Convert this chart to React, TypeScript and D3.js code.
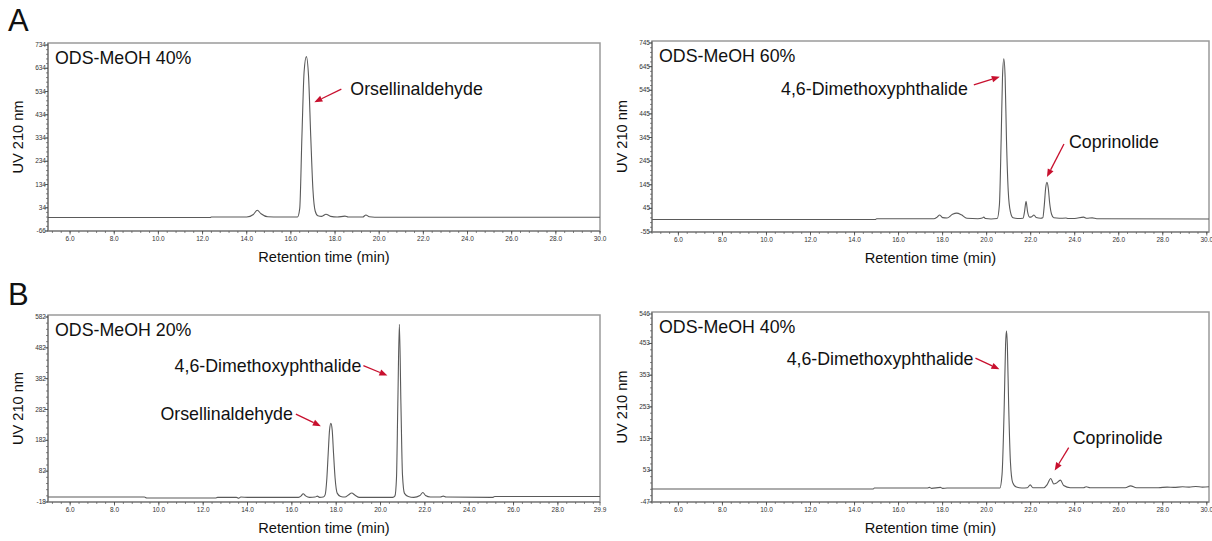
import React from 'react';
import * as d3 from 'd3';

type Pt = [number, number];

// chromatogram traces, [retention time (min), UV 210 nm response]
const traceA40: Pt[] = [
  [5.0, -8], [12.35, -8], [12.4, -6], [14.0, -6], [14.3, 5], [14.48, 23], [14.65, 8], [14.95, -5],
  [15.5, -6], [16.3, -6], [16.4, 30], [16.5, 340], [16.6, 620], [16.7, 684], [16.8, 600],
  [16.9, 340], [17.0, 110], [17.1, 20], [17.22, 0], [17.4, -3], [17.59, 6], [17.8, -3],
  [18.1, -6], [18.45, -2], [18.6, -6], [19.25, -6], [19.4, 3], [19.55, -5], [19.8, -7], [30.0, -7],
];

const traceA60: Pt[] = [
  [4.8, -2], [14.95, -2], [15.0, 1], [17.6, 1], [17.75, 8], [17.87, 17], [18.0, 6], [18.2, 4],
  [18.45, 20], [18.64, 25], [18.85, 18], [19.1, 3], [19.6, 1], [19.8, 4], [19.87, 8], [19.95, 2],
  [20.2, 0], [20.48, 2], [20.58, 60], [20.66, 340], [20.72, 600], [20.78, 678], [20.84, 600],
  [20.9, 340], [20.98, 120], [21.08, 30], [21.2, 5], [21.4, 2], [21.65, 3], [21.72, 30],
  [21.79, 75], [21.86, 30], [21.95, 8], [22.05, 10], [22.15, 17], [22.25, 6], [22.45, 3],
  [22.55, 5], [22.62, 60], [22.68, 130], [22.74, 155], [22.8, 130], [22.86, 70], [22.95, 20],
  [23.05, 5], [23.3, 3], [23.6, 4], [23.7, 2], [24.0, 2], [24.4, 8], [24.55, 3], [24.8, 5],
  [25.0, 1], [30.1, 0],
];

const traceB20: Pt[] = [
  [5.0, -2], [9.35, -2], [9.45, -5], [12.55, -5], [12.65, -3], [13.5, -3], [13.6, -6], [13.7, -2],
  [14.0, -3], [16.3, -3], [16.42, 2], [16.51, 9], [16.62, 2], [16.8, -3], [17.05, -2], [17.15, 1],
  [17.25, -3], [17.42, -2], [17.5, 5], [17.58, 60], [17.64, 140], [17.7, 215], [17.76, 237],
  [17.82, 215], [17.88, 140], [17.95, 60], [18.05, 10], [18.2, 0], [18.4, -2], [18.55, 5],
  [18.7, 11], [18.85, 4], [19.05, -3], [20.55, -3], [20.65, 2], [20.72, 60], [20.78, 300],
  [20.85, 558], [20.92, 300], [20.99, 70], [21.08, 10], [21.25, 0], [21.5, -3], [21.78, 3],
  [21.91, 13], [22.03, 3], [22.25, -2], [22.7, -2], [22.83, 1], [22.95, -2], [25.05, -3],
  [25.15, 0], [29.9, 0],
];

const traceB40: Pt[] = [
  [4.8, -6], [14.85, -6], [14.9, -3], [17.3, -3], [17.4, -1], [17.5, -4], [17.9, -1], [18.0, -4],
  [18.2, -3], [20.6, -3], [20.7, 40], [20.8, 260], [20.86, 450], [20.9, 493], [20.94, 450],
  [21.0, 260], [21.08, 80], [21.18, 15], [21.35, 0], [21.6, -3], [21.85, -2], [21.98, 7],
  [22.1, -2], [22.6, -2], [22.75, 8], [22.91, 27], [23.05, 10], [23.15, 12], [23.35, 22],
  [23.5, 5], [23.8, -2], [24.4, -2], [24.52, 1], [24.7, -2], [26.3, -2], [26.54, 4], [26.8, -2],
  [27.8, -2], [28.2, 0], [28.5, -1], [28.9, 1], [29.2, 0], [29.5, 2], [29.8, 0], [30.1, 1],
];

// axis ticks
const yTicksA40 = [734, 634, 534, 434, 334, 234, 134, 34, -66];
const yTicksA60 = [745, 645, 545, 445, 345, 245, 145, 45, -55];
const yTicksB20 = [582, 482, 382, 282, 182, 82, -18];
const yTicksB40 = [546, 453, 353, 253, 153, 53, -47];
const xTicks30 = [6, 8, 10, 12, 14, 16, 18, 20, 22, 24, 26, 28, 30];
const xTicksB20 = [6, 8, 10, 12, 14, 16, 18, 20, 22, 24, 26, 28, 29.9];

// panel labels and peak names
const phaseLabels = ['ODS-MeOH 40%', 'ODS-MeOH 60%', 'ODS-MeOH 20%', 'ODS-MeOH 40%'];
const peakNames = ['Orsellinaldehyde', '4,6-Dimethoxyphthalide', 'Coprinolide'];
// peaks marked by arrows: [retention time, response where arrow tip sits]
const peaksA40: Pt[] = [[16.7, 488]];
const peaksA60: Pt[] = [[20.78, 602], [22.74, 178]];
const peaksB20: Pt[] = [[17.76, 228], [20.85, 392]];
const peaksB40: Pt[] = [[20.9, 372], [22.91, 52]];

const FONT = "'Liberation Sans', Arial, Helvetica, sans-serif";
const RED = '#c8102e';
const LABEL_SIZE = 17.8;
const TITLE_SIZE = 14.6;

type Note = { name: string; peak: Pt; dx: number; tail: Pt; text: Pt; anchor: 'start' | 'end' };

type PanelProps = {
  box: { x0: number; x1: number; y0: number; y1: number };
  xDomain: [number, number];
  yTicks: number[];
  xTicks: number[];
  trace: Pt[];
  phase: string;
  notes: Note[];
};

const Panel = ({ box, xDomain, yTicks, xTicks, trace, phase, notes }: PanelProps) => {
  const x = d3.scaleLinear().domain(xDomain).range([box.x0, box.x1]);
  const yTop = yTicks[0];
  const yBot = yTicks[yTicks.length - 1];
  const y = d3.scaleLinear().domain([yBot, yTop]).range([box.y1, box.y0 + 2]);

  const line = d3.line<Pt>()
    .x(d => x(d[0]))
    .y(d => y(d[1]))
    .curve(d3.curveMonotoneX);

  // minor ticks
  const xMinor = d3.range(-5, 70).map(i => 6 + i * 0.4)
    .filter(t => t >= xDomain[0] - 1e-6 && t <= xDomain[1] + 1e-6);
  const yMinor = d3.range(0, 60).map(i => yTicks[yTicks.length - 1] + i * 20)
    .filter(v => v <= yTop);

  const midX = (box.x0 + box.x1) / 2;
  const midY = (box.y0 + box.y1) / 2;

  return (
    <g>
      {/* frame */}
      <rect x={box.x0} y={box.y0} width={box.x1 - box.x0} height={box.y1 - box.y0}
        fill="none" stroke="#9a9a9a" strokeWidth={1.5} />
      <line x1={box.x0} x2={box.x0} y1={box.y0} y2={box.y1} stroke="#777" strokeWidth={1.2} />
      <line x1={box.x0} x2={box.x1} y1={box.y1} y2={box.y1} stroke="#777" strokeWidth={1.2} />

      {/* y ticks */}
      {yMinor.map((v, i) => (
        <line key={'ym' + i} x1={box.x0 - 2} x2={box.x0} y1={y(v)} y2={y(v)} stroke="#555" strokeWidth={0.7} />
      ))}
      {yTicks.map((v, i) => (
        <g key={'y' + i}>
          <line x1={box.x0 - 3.5} x2={box.x0} y1={y(v)} y2={y(v)} stroke="#444" strokeWidth={0.8} />
          <text x={box.x0 - 2} y={y(v) + 2} fontSize={6.5} fill="#333" textAnchor="end"
            fontFamily={FONT}>{v}</text>
        </g>
      ))}

      {/* x ticks */}
      {xMinor.map((t, i) => (
        <line key={'xm' + i} x1={x(t)} x2={x(t)} y1={box.y1} y2={box.y1 + 2} stroke="#555" strokeWidth={0.7} />
      ))}
      {xTicks.map((t, i) => (
        <g key={'x' + i}>
          <line x1={x(t)} x2={x(t)} y1={box.y1} y2={box.y1 + 3.5} stroke="#444" strokeWidth={0.8} />
          <text x={x(t)} y={box.y1 + 10} fontSize={6.5} fill="#333" textAnchor="middle"
            fontFamily={FONT}>{t.toFixed(1)}</text>
        </g>
      ))}

      {/* trace */}
      <path d={line(trace) ?? ''} fill="none" stroke="#5a5a5a" strokeWidth={1.1} />

      {/* labels */}
      <text x={box.x0 + 7} y={box.y0 + 21} fontSize={LABEL_SIZE} fontFamily={FONT} fill="#111">{phase}</text>
      <text transform={`translate(${box.x0 - 25},${midY}) rotate(-90)`} textAnchor="middle"
        fontSize={TITLE_SIZE} fontFamily={FONT} fill="#111">UV 210 nm</text>
      <text x={midX} y={box.y1 + 31} textAnchor="middle" fontSize={TITLE_SIZE} fontFamily={FONT}
        fill="#111">Retention time (min)</text>

      {/* peak annotations */}
      {notes.map((n, i) => {
        const tx = x(n.peak[0]) + n.dx;
        const ty = y(n.peak[1]);
        const sx = tx + n.tail[0];
        const sy = ty + n.tail[1];
        const ang = Math.atan2(ty - sy, tx - sx);
        const hl = 8;
        const hw = 3.2;
        const bx = tx - hl * Math.cos(ang);
        const by = ty - hl * Math.sin(ang);
        const head = [
          [tx, ty],
          [bx + hw * Math.sin(ang), by - hw * Math.cos(ang)],
          [bx - hw * Math.sin(ang), by + hw * Math.cos(ang)],
        ].map(p => p.join(',')).join(' ');
        return (
          <g key={'n' + i}>
            <line x1={sx} y1={sy} x2={bx} y2={by} stroke={RED} strokeWidth={1.3} />
            <polygon points={head} fill={RED} />
            <text x={sx + n.text[0]} y={sy + n.text[1] + 6.3} textAnchor={n.anchor}
              fontSize={LABEL_SIZE} fontFamily={FONT} fill="#111">{n.name}</text>
          </g>
        );
      })}
    </g>
  );
};

const App = () => {
  return (
    <svg width={1212} height={541} style={{ position: 'absolute', left: 0, top: 0, background: '#fff' }}>
      <rect width={1212} height={541} fill="#fff" />
      <text x={8} y={31} fontSize={31} fontFamily={FONT} fill="#111">A</text>
      <text x={8} y={305} fontSize={31} fontFamily={FONT} fill="#111">B</text>

      <Panel
        box={{ x0: 48, x1: 600, y0: 43, y1: 231 }}
        xDomain={[5.0, 30.0]}
        yTicks={yTicksA40}
        xTicks={xTicks30}
        trace={traceA40}
        phase={phaseLabels[0]}
        notes={[
          { name: peakNames[0], peak: peaksA40[0], dx: 8, tail: [27, -13], text: [9, 0], anchor: 'start' },
        ]}
      />
      <Panel
        box={{ x0: 652, x1: 1209, y0: 41, y1: 232 }}
        xDomain={[4.8, 30.1]}
        yTicks={yTicksA60}
        xTicks={xTicks30}
        trace={traceA60}
        phase={phaseLabels[1]}
        notes={[
          { name: peakNames[1], peak: peaksA60[0], dx: -4, tail: [-26, 8], text: [-6, 4], anchor: 'end' },
          { name: peakNames[2], peak: peaksA60[1], dx: 0, tail: [17, -33], text: [5, -2], anchor: 'start' },
        ]}
      />
      <Panel
        box={{ x0: 48, x1: 600, y0: 315, y1: 502 }}
        xDomain={[5.0, 29.9]}
        yTicks={yTicksB20}
        xTicks={xTicksB20}
        trace={traceB20}
        phase={phaseLabels[2]}
        notes={[
          { name: peakNames[0], peak: peaksB20[0], dx: -10, tail: [-25, -12], text: [-3, 0], anchor: 'end' },
          { name: peakNames[1], peak: peaksB20[1], dx: -12, tail: [-24, -10], text: [-2, 0], anchor: 'end' },
        ]}
      />
      <Panel
        box={{ x0: 652, x1: 1209, y0: 312, y1: 502 }}
        xDomain={[4.8, 30.1]}
        yTicks={yTicksB40}
        xTicks={xTicks30}
        trace={traceB40}
        phase={phaseLabels[3]}
        notes={[
          { name: peakNames[1], peak: peaksB40[0], dx: -7, tail: [-24, -11], text: [-2, 1], anchor: 'end' },
          { name: peakNames[2], peak: peaksB40[1], dx: 4, tail: [14, -23], text: [4, -10], anchor: 'start' },
        ]}
      />
    </svg>
  );
};

export default App;
